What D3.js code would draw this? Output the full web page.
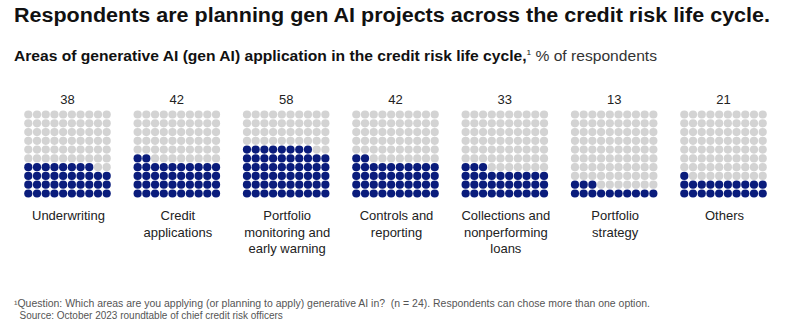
<!DOCTYPE html>
<html><head><meta charset="utf-8">
<script src="https://cdn.jsdelivr.net/npm/d3@7"></script>
<style>
body{margin:0;background:#fff;}
text{font-family:"Liberation Sans",Arial,sans-serif;}
</style></head>
<body><svg id="c" width="810" height="327"></svg>
<script>
const categories = [
  ["Underwriting"],
  ["Credit","applications"],
  ["Portfolio","monitoring and","early warning"],
  ["Controls and","reporting"],
  ["Collections and","nonperforming","loans"],
  ["Portfolio","strategy"],
  ["Others"]
];
const values = [38, 42, 58, 42, 33, 13, 21];
const title = "Respondents are planning gen AI projects across the credit risk life cycle.";
const subtitleBold = "Areas of generative AI (gen AI) application in the credit risk life cycle,";
const subtitleSup = "1";
const subtitleRest = " % of respondents";
const footnotes = [
  "\u00B9Question: Which areas are you applying (or planning to apply) generative AI in?  (n = 24). Respondents can chose more than one option.",
  "  Source: October 2023 roundtable of chief credit risk officers"
];

const navy = "#0a1c7c", gray = "#d3d3d3";
const svg = d3.select("#c");

function fit(sel, w){
  const n = sel.node(); const l = n.getComputedTextLength();
  if (Math.abs(l - w) > 2) sel.attr("textLength", w).attr("lengthAdjust","spacingAndGlyphs");
}

const t = svg.append("text").attr("x",14).attr("y",22).attr("font-size",20).attr("font-weight",600).attr("fill","#111").text(title);
fit(t, 756);

const st = svg.append("text").attr("x",14).attr("y",61).attr("font-size",15).attr("fill","#111");
st.append("tspan").attr("font-weight","bold").text(subtitleBold);
st.append("tspan").attr("font-size",8).attr("dy",-6).text(subtitleSup);
st.append("tspan").attr("font-size",15).attr("dy",6).attr("fill","#333").text(subtitleRest);
fit(st, 643);

const idx = d3.range(categories.length);
const gx = d3.scaleLinear().domain([0, categories.length-1]).range([24, 680]);
const gridW = 87;
const dx = d3.scaleLinear().domain([0,9]).range([4.3, gridW-4.3]);
const dy = d3.scaleLinear().domain([0,9]).range([193.5, 114.5]); // row 0 = bottom
const r = 4.1;

idx.forEach(i=>{
  const g = svg.append("g").attr("transform",`translate(${gx(i)},0)`);
  const cells = d3.range(100).map(k=>({row: Math.floor(k/10), col: k%10, on: k < values[i]}));
  g.selectAll("circle").data(cells).join("circle")
    .attr("cx", d=>dx(d.col)).attr("cy", d=>dy(d.row)).attr("r", r)
    .attr("fill", d=>d.on ? navy : gray);
  g.append("text").attr("x", gridW/2).attr("y",104).attr("text-anchor","middle")
    .attr("font-size",13).attr("fill","#222").text(values[i]);
  const lab = g.append("text").attr("x", gridW/2+1).attr("y",220).attr("text-anchor","middle")
    .attr("font-size",13).attr("fill","#222");
  categories[i].forEach((s,j)=>lab.append("tspan").attr("x",gridW/2+1).attr("y",220+j*16.5).text(s));
});

footnotes.forEach((f,j)=>{
  const ft = svg.append("text").attr("x",14).attr("y",307+j*11.5).attr("font-size",10).attr("fill","#555")
    .attr("xml:space","preserve").style("white-space","pre").text(f);
  if (j===0) fit(ft, 636);
});
</script></body></html>
